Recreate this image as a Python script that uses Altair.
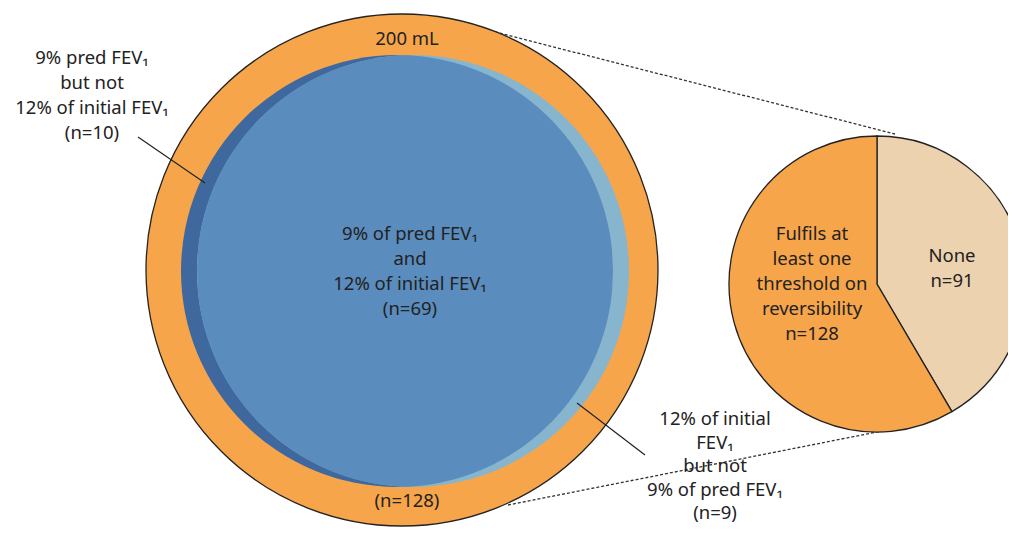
import altair as alt
import pandas as pd
import numpy as np

# ---------------- data ----------------
volume_label = "200 mL"
reversible_n = 128
both_n = 69
pred_only_n = 10
initial_only_n = 9
pie_categories = ["None", "Fulfils at least one threshold on reversibility"]
pie_values = [91, 128]
pie_colors = ["#ECD2AF", "#F7A54B"]

# ---------------- layout (page pixel space) ----------------
OUT = (402, 270, 256)        # outer orange circle cx, cy, r
DARK = (397, 271, 216)       # 9% pred circle
LIGHT = (413, 271, 216)      # 12% initial circle
PIE = (877, 284, 148)

ORANGE = "#F7A54B"
DARKBLUE = "#3F689E"
MIDBLUE = "#5A8CBD"
LIGHTBLUE = "#87B5CE"
TXT = "#222222"
FONT = "Noto Sans"

xs = alt.Scale(domain=[8, 1008], range=[0, 1000])
ys = alt.Scale(domain=[8, 527], range=[0, 519])
X = lambda f: alt.X(f, type="quantitative", scale=xs, axis=None)
Y = lambda f: alt.Y(f, type="quantitative", scale=ys, axis=None)


def circle(c, fill, **kw):
    df = pd.DataFrame({"cx": [c[0]], "cy": [c[1]], "r": [c[2]]})
    return alt.Chart(df).mark_arc(theta=0, theta2=2 * np.pi, fill=fill, **kw).encode(
        x=X("cx"), y=Y("cy"), radius=alt.Radius("r:Q", scale=None)
    )


# lens (intersection of the two blue circles)
xl = LIGHT[0] - LIGHT[2]
xr = DARK[0] + DARK[2]
xx = np.linspace(xl, xr, 400)
hd = np.sqrt(np.clip(DARK[2] ** 2 - (xx - DARK[0]) ** 2, 0, None))
hl = np.sqrt(np.clip(LIGHT[2] ** 2 - (xx - LIGHT[0]) ** 2, 0, None))
h = np.minimum(hd, hl)
lens_df = pd.DataFrame({"x": xx, "y": DARK[1] - h, "y2": DARK[1] + h})
lens = alt.Chart(lens_df).mark_area(color=MIDBLUE, interpolate="linear").encode(
    x=X("x"), y=Y("y"), y2="y2"
)

# dotted connector lines
dots_df = pd.DataFrame({
    "x": [495, 508], "y": [32, 505], "x2": [895, 882], "y2": [134, 431]
})
dots = alt.Chart(dots_df).mark_rule(color="#333", strokeWidth=1.3, strokeDash=[3, 2]).encode(
    x=X("x"), y=Y("y"), x2="x2", y2="y2"
)

# pointer lines
ptr_df = pd.DataFrame({
    "x": [138, 577], "y": [137, 403], "x2": [205, 645], "y2": [183, 455]
})
ptr = alt.Chart(ptr_df).mark_rule(color="#222", strokeWidth=1.2).encode(
    x=X("x"), y=Y("y"), x2="x2", y2="y2"
)

# pie
pie_df = pd.DataFrame({
    "cat": pie_categories, "n": pie_values, "ord": [0, 1],
    "cx": PIE[0], "cy": PIE[1], "r": PIE[2],
})
pie = alt.Chart(pie_df).mark_arc(stroke="#222", strokeWidth=1.3).encode(
    x=X("cx"), y=Y("cy"),
    theta=alt.Theta("n:Q", stack=True),
    order=alt.Order("ord:Q"),
    radius=alt.Radius("r:Q", scale=None),
    color=alt.Color("cat:N", scale=alt.Scale(domain=pie_categories, range=pie_colors), legend=None),
)

# labels (y = first line)
labels_df = pd.DataFrame({
    "text": [
        volume_label,
        f"(n={reversible_n})",
        f"9% of pred FEV\u2081\nand\n12% of initial FEV\u2081\n(n={both_n})",
        f"9% pred FEV\u2081\nbut not\n12% of initial FEV\u2081\n(n={pred_only_n})",
        f"Fulfils at\nleast one\nthreshold on\nreversibility\nn={pie_values[1]}",
        f"None\nn={pie_values[0]}",
    ],
    "x": [407, 407, 410, 92, 812, 952],
    "y": [39, 501, 234, 58, 234, 256],
})
text_style = dict(font=FONT, fontSize=18.5, color=TXT, lineBreak="\n",
                  align="center", baseline="middle")
labels = alt.Chart(labels_df).mark_text(lineHeight=25, **text_style).encode(
    x=X("x"), y=Y("y"), text="text:N"
)

br_df = pd.DataFrame({
    "text": [f"12% of initial\nFEV\u2081\nbut not\n9% of pred FEV\u2081\n(n={initial_only_n})"],
    "x": [715], "y": [419],
})
labels_br = alt.Chart(br_df).mark_text(lineHeight=23.5, **text_style).encode(
    x=X("x"), y=Y("y"), text="text:N"
)

chart = alt.layer(
    dots,
    circle(OUT, ORANGE, stroke="#222", strokeWidth=1.3),
    circle(DARK, DARKBLUE),
    circle(LIGHT, LIGHTBLUE),
    lens,
    pie,
    ptr,
    labels,
    labels_br,
).properties(
    width=1000, height=519, padding=0, autosize=alt.AutoSizeParams(type="none")
).configure_view(stroke=None)

chart.save("out.html", embed_options={"renderer": "svg", "actions": False})
